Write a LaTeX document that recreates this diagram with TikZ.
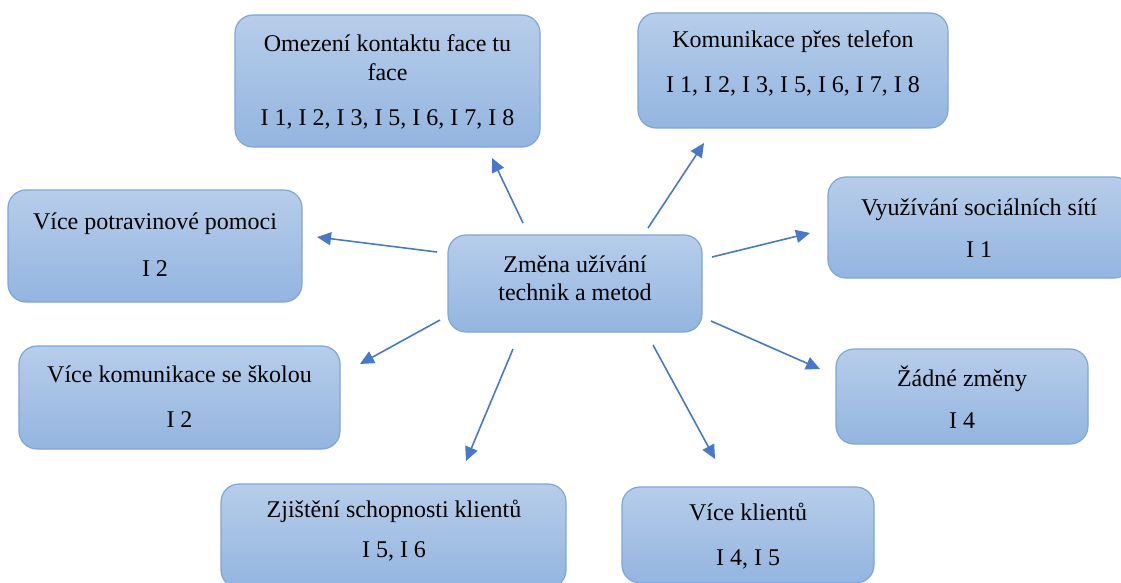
\documentclass[tikz,border=0pt]{standalone}
\usepackage{fontspec}
\setmainfont{Liberation Serif}
\usetikzlibrary{arrows.meta}
\definecolor{boxtop}{HTML}{B7CDEA}
\definecolor{boxbot}{HTML}{93B5E0}
\definecolor{boxedge}{HTML}{7EA6DA}
\definecolor{arrowblue}{HTML}{4A78C8}
\tikzset{
  card/.style={draw=boxedge, line width=1.2pt, rounded corners=18pt,
    top color=boxtop, bottom color=boxbot, inner sep=0pt},
  txt/.style={anchor=base, inner sep=0pt, font=\fontsize{24}{29}\selectfont},
  link/.style={draw=arrowblue, line width=1.6pt,
    -{Triangle[length=14pt,width=13pt]}}
}
% card: left, top, right, bottom (y grows downwards)
\newcommand{\card}[5]{%
  \path[card] (#2,#3) rectangle (#4,#5) node[inner sep=0pt, minimum size=0pt] (#1) at ({(#2+#4)/2},{(#3+#5)/2}) {};}
\begin{document}
\begin{tikzpicture}[x=1pt,y=-1pt]
\useasboundingbox (0,0) rectangle (1121,583);
\clip (0,0) rectangle (1121,583);

% cards
\card{b0}{448}{235}{702}{332}
\card{b1}{235}{15}{540}{147}
\card{b2}{638}{13}{948}{128}
\card{b3}{8}{190}{302}{302}
\card{b4}{828}{177}{1132}{278}
\card{b5}{19}{346}{340}{449}
\card{b6}{836}{349}{1088}{444}
\card{b7}{221}{484}{566}{588}
\card{b8}{622}{487}{874}{583}

% texts
\node[txt] (t0a) at (575,272) {Změna užívání};
\node[txt] (t0b) at (575,300) {technik a metod};

\node[txt] (t1a) at (387.5,51.7) {Omezení kontaktu face tu};
\node[txt] (t1b) at (387.5,81) {face};
\node[txt] (t1c) at (387.5,125.7) {I 1, I 2, I 3, I 5, I 6, I 7, I 8};

\node[txt] (t2a) at (793,48) {Komunikace přes telefon};
\node[txt] (t2b) at (793,93) {I 1, I 2, I 3, I 5, I 6, I 7, I 8};

\node[txt] (t3a) at (155,229) {Více potravinové pomoci};
\node[txt] (t3b) at (155,276) {I 2};

\node[txt] (t4a) at (979,215) {Využívání sociálních sítí};
\node[txt] (t4b) at (979,257) {I 1};

\node[txt] (t5a) at (179.5,382) {Více komunikace se školou};
\node[txt] (t5b) at (179.5,427) {I 2};

\node[txt] (t6a) at (962,386) {Žádné změny};
\node[txt] (t6b) at (962,428) {I 4};

\node[txt] (t7a) at (394,517) {Zjištění schopnosti klientů};
\node[txt] (t7b) at (394,557) {I 5, I 6};

\node[txt] (t8a) at (748,520) {Více klientů};
\node[txt] (t8b) at (748,565) {I 4, I 5};

% arrow ends
\coordinate (a1s) at (523,223); \coordinate (a1e) at (492,158);
\coordinate (a2s) at (648,228); \coordinate (a2e) at (704,143);
\coordinate (a3s) at (437,252); \coordinate (a3e) at (317,237);
\coordinate (a4s) at (712,257); \coordinate (a4e) at (810,233);
\coordinate (a5s) at (440,320); \coordinate (a5e) at (360,364);
\coordinate (a6s) at (711,321); \coordinate (a6e) at (820,369);
\coordinate (a7s) at (513,349); \coordinate (a7e) at (466,461);
\coordinate (a8s) at (653,345); \coordinate (a8e) at (715,459);

% arrows
\foreach \i in {1,...,8} {\draw[link] (a\i s) -- (a\i e);}
\end{tikzpicture}
\end{document}
